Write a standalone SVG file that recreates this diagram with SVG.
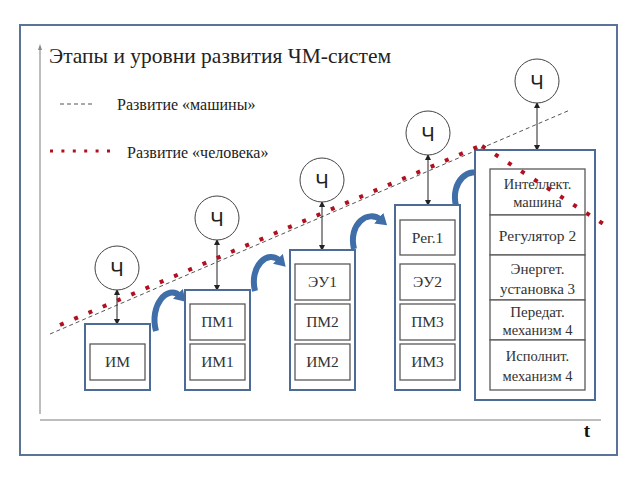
<svg xmlns="http://www.w3.org/2000/svg" width="640" height="480" viewBox="0 0 640 480">
<style>
.frame{fill:none;stroke:#5a7498;stroke-width:2}
.axis{stroke:#bdbdbd;stroke-width:2;fill:none}
.outer{fill:#fff;stroke:#4c6b95;stroke-width:2}
.inner{fill:#fff;stroke:#595959;stroke-width:1.3}
.lbl{font-family:"Liberation Serif","Times New Roman",serif;fill:#333;text-anchor:middle}
.circ{fill:#fff;stroke:#444;stroke-width:1}
.ch{font-family:"Liberation Sans",Arial,sans-serif;font-size:20px;fill:#222;text-anchor:middle}
.link{stroke:#222;stroke-width:1;marker-start:url(#ah);marker-end:url(#ah)}
.curve{fill:none;stroke:#3f6ea8;stroke-width:6;marker-end:url(#bh)}
.mline{stroke:#555;stroke-width:1;stroke-dasharray:4 3;fill:none}
.hline{stroke:#b01020;stroke-width:4;stroke-dasharray:4 11.5;fill:none}
</style>
<defs>
<marker id="ah" markerWidth="6" markerHeight="6" refX="5" refY="3" orient="auto-start-reverse" markerUnits="userSpaceOnUse">
<path d="M0,0 L6,3 L0,6 Z" fill="#222"/>
</marker>
<marker id="bh" markerWidth="14" markerHeight="14" refX="3" refY="7" orient="auto" markerUnits="userSpaceOnUse">
<path d="M0,0 L11,7 L0,14 Z" fill="#3f6ea8"/>
</marker>
</defs>
<rect x="0" y="0" width="640" height="480" fill="#fff"/>
<rect class="frame" x="20" y="25" width="597" height="430"/>
<g id="axes">
<line class="axis" x1="40" y1="47" x2="40" y2="414"/>
<path d="M38,50 L40,44 L42,50 Z" fill="#888"/>
<line class="axis" x1="40" y1="420" x2="601" y2="420"/>
<text x="587" y="437" font-family="Liberation Serif,serif" font-size="19" font-weight="bold" fill="#111" text-anchor="middle">t</text>
</g>
<text x="49" y="63" font-family="Liberation Serif,'Times New Roman',serif" font-size="21.5" fill="#222">Этапы и уровни развития ЧМ-систем</text>
<g id="legend">
<line class="mline" x1="60" y1="104" x2="95" y2="104"/>
<text x="117" y="110" font-family="Liberation Serif,serif" font-size="16" fill="#222">Развитие «машины»</text>
<line x1="50" y1="151" x2="110" y2="151" stroke="#b01020" stroke-width="3" stroke-dasharray="3 8.4"/>
<text x="127" y="158" font-family="Liberation Serif,serif" font-size="16" fill="#222">Развитие «человека»</text>
</g>
<g id="connectors">
<line class="mline" x1="50" y1="334" x2="570" y2="110"/>
<line class="link" x1="117" y1="290" x2="117" y2="324"/>
<line class="link" x1="217" y1="240" x2="217" y2="290"/>
<line class="link" x1="322" y1="202" x2="322" y2="250"/>
<line class="link" x1="428" y1="155" x2="428" y2="205"/>
<line class="link" x1="537" y1="103" x2="537" y2="150"/>
<path class="curve" d="M156,331 C149,305 168,284 180,296"/>
<path class="curve" d="M255,291 C249,266 268,249 280,261"/>
<path class="curve" d="M354,249 C348,224 368,209 381,220"/>
<path class="curve" d="M456,206 C450,181 470,165 483,176"/>
</g>
<g id="h1"><circle class="circ" cx="117" cy="268" r="22"/><text class="ch" x="117" y="276">Ч</text></g>
<g id="h2"><circle class="circ" cx="217" cy="218" r="22"/><text class="ch" x="217" y="226">Ч</text></g>
<g id="h3"><circle class="circ" cx="322" cy="180" r="22"/><text class="ch" x="322" y="188">Ч</text></g>
<g id="h4"><circle class="circ" cx="428" cy="133" r="22"/><text class="ch" x="428" y="141">Ч</text></g>
<g id="h5"><circle class="circ" cx="537" cy="81" r="22"/><text class="ch" x="537" y="89">Ч</text></g>
<g id="stage1">
<rect class="outer" x="85" y="324" width="65" height="66"/>
<rect class="inner" x="90" y="344" width="55" height="36"/>
<text class="lbl" x="117.5" y="367" font-size="15.5">ИМ</text>
</g>
<g id="stage2">
<rect class="outer" x="185" y="290" width="65" height="100"/>
<rect class="inner" x="190" y="304" width="55" height="36"/>
<text class="lbl" x="217.5" y="327" font-size="15.5">ПМ1</text>
<rect class="inner" x="190" y="344" width="55" height="36"/>
<text class="lbl" x="217.5" y="367" font-size="15.5">ИМ1</text>
</g>
<g id="stage3">
<rect class="outer" x="290" y="250" width="65" height="140"/>
<rect class="inner" x="295" y="264" width="55" height="36"/>
<text class="lbl" x="322.5" y="287" font-size="15.5">ЭУ1</text>
<rect class="inner" x="295" y="304" width="55" height="36"/>
<text class="lbl" x="322.5" y="327" font-size="15.5">ПМ2</text>
<rect class="inner" x="295" y="344" width="55" height="36"/>
<text class="lbl" x="322.5" y="367" font-size="15.5">ИМ2</text>
</g>
<g id="stage4">
<rect class="outer" x="395" y="205" width="65" height="185"/>
<rect class="inner" x="400" y="220" width="55" height="35"/>
<text class="lbl" x="427.5" y="243" font-size="15.5">Рег.1</text>
<rect class="inner" x="400" y="264" width="55" height="36"/>
<text class="lbl" x="427.5" y="287" font-size="15.5">ЭУ2</text>
<rect class="inner" x="400" y="304" width="55" height="36"/>
<text class="lbl" x="427.5" y="327" font-size="15.5">ПМ3</text>
<rect class="inner" x="400" y="344" width="55" height="36"/>
<text class="lbl" x="427.5" y="367" font-size="15.5">ИМ3</text>
</g>
<g id="stage5">
<rect class="outer" x="475" y="150" width="120" height="250"/>
<rect class="inner" x="490" y="169" width="95" height="46"/>
<text class="lbl" x="537.5" y="189" font-size="14.5">Интеллект.</text>
<text class="lbl" x="537.5" y="207" font-size="14.5">машина</text>
<rect class="inner" x="490" y="215" width="95" height="40"/>
<text class="lbl" x="537.5" y="241" font-size="15.5">Регулятор 2</text>
<rect class="inner" x="490" y="255" width="95" height="45"/>
<text class="lbl" x="537.5" y="274" font-size="15">Энергет.</text>
<text class="lbl" x="537.5" y="294" font-size="15">установка 3</text>
<rect class="inner" x="490" y="300" width="95" height="40"/>
<text class="lbl" x="537.5" y="317" font-size="15">Передат.</text>
<text class="lbl" x="537.5" y="335" font-size="14.5">механизм  4</text>
<rect class="inner" x="490" y="340" width="95" height="50"/>
<text class="lbl" x="537.5" y="361" font-size="14.5">Исполнит.</text>
<text class="lbl" x="537.5" y="381" font-size="14.5">механизм 4</text>
</g>
<g id="human-line">
<line class="hline" x1="60" y1="325" x2="482" y2="145"/>
<line class="hline" x1="482" y1="146" x2="605" y2="225" stroke-dasharray="4 11"/>
</g>
</svg>
